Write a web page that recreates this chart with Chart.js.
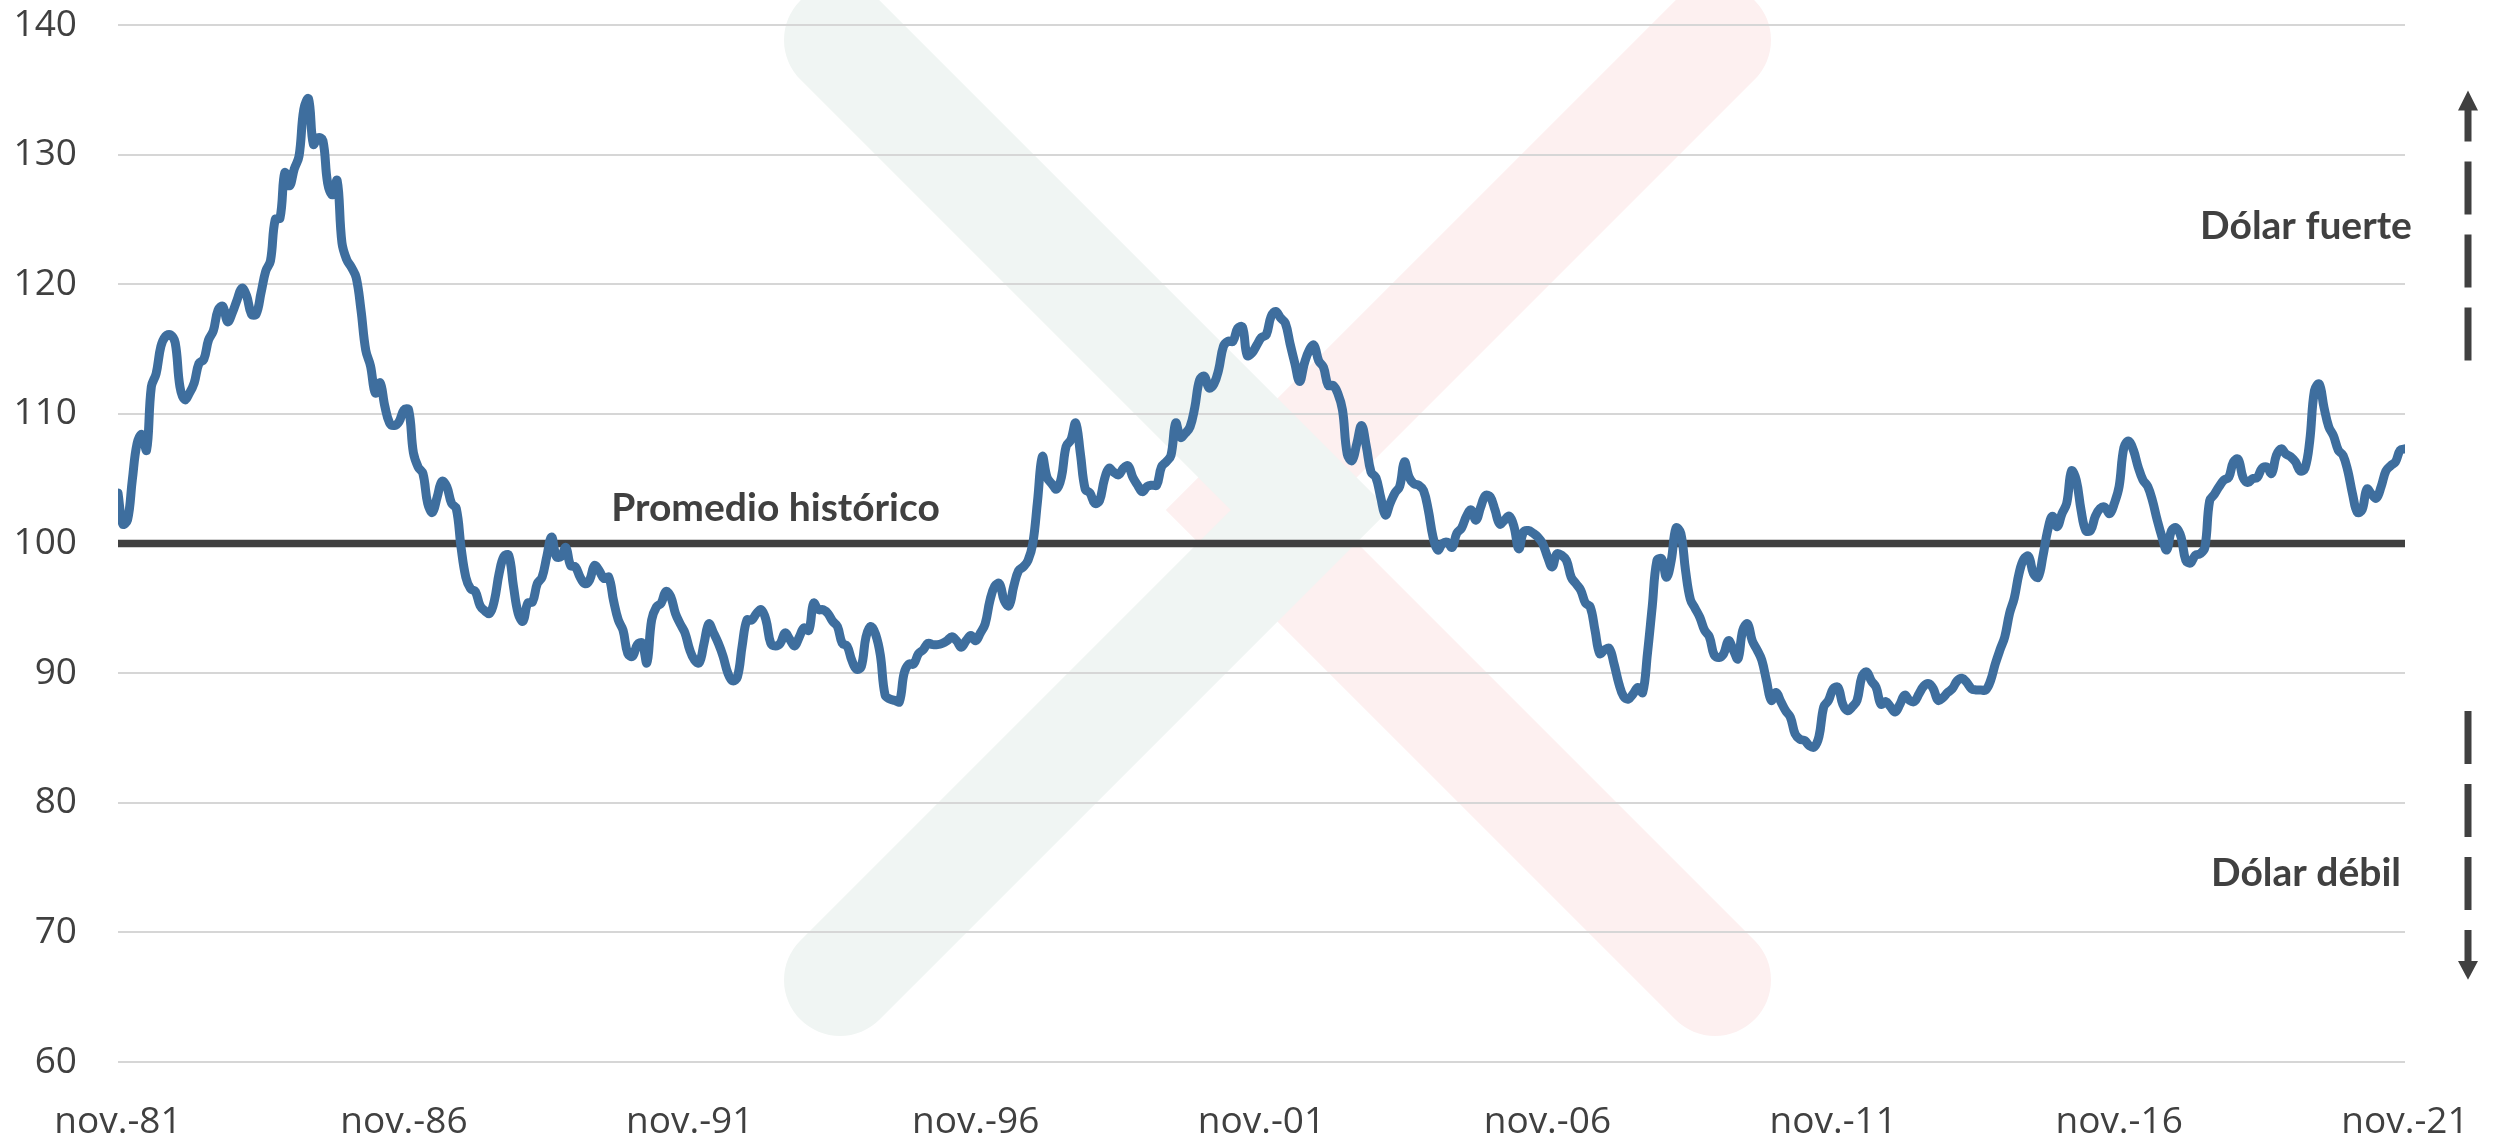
<!DOCTYPE html>
<html>
<head>
<meta charset="utf-8">
<script src="https://cdn.jsdelivr.net/npm/chart.js@4.4.1/dist/chart.umd.min.js"></script>
<style>
	html, body { margin: 0; padding: 0; background: #ffffff; }
	#wrap { width: 2496px; height: 1139px; }
</style>
</head>
<body>
<div id="wrap"><canvas id="dollarChart" width="2496" height="1139"></canvas></div>
<script>
// --- Data (monthly, nov-81 .. nov-21) ---
const xTickLabels = ["nov.-81", "nov.-86", "nov.-91", "nov.-96", "nov.-01", "nov.-06", "nov.-11", "nov.-16", "nov.-21"];
const monthsPerTick = 60;

const dollarIndex = [
	103.9, 101.5, 101.8, 104.9, 107.7, 108.4, 107.2, 112.1, 113.1, 115.2, // 0
	116.0, 116.1, 115.5, 112.1, 111.1, 111.6, 112.4, 113.9, 114.2, 115.7,
	116.4, 118.0, 118.3, 117.1, 117.8, 118.8, 119.7, 119.1, 117.7, 117.7,
	119.3, 121.0, 121.8, 125.0, 125.1, 128.6, 127.6, 128.9, 129.9, 133.5,
	134.3, 130.8, 131.3, 131.1, 127.8, 126.9, 128.0, 123.2, 121.9, 121.3,
	120.5, 118.0, 114.9, 113.7, 111.6, 112.4, 110.6, 109.3, 109.1, 109.4,
	110.3, 110.3, 107.0, 105.9, 105.4, 103.1, 102.4, 103.6, 104.8, 104.4, // 60
	103.1, 102.7, 99.7, 97.4, 96.5, 96.3, 95.2, 94.8, 94.6, 95.6,
	97.7, 99.0, 99.1, 96.7, 94.6, 94.0, 95.4, 95.5, 96.9, 97.4,
	99.0, 100.5, 99.0, 99.0, 99.7, 98.3, 98.2, 97.4, 96.9, 97.2,
	98.3, 97.9, 97.3, 97.4, 95.6, 94.1, 93.3, 91.5, 91.3, 92.2,
	92.3, 90.8, 94.1, 95.1, 95.4, 96.3, 95.9, 94.6, 93.8, 93.1,
	91.8, 91.0, 90.8, 92.3, 93.8, 93.1, 92.3, 91.3, 90.0, 89.4, // 120
	89.7, 92.1, 94.1, 94.1, 94.6, 94.9, 94.1, 92.3, 92.1, 92.3,
	93.1, 92.6, 92.1, 92.8, 93.5, 93.3, 95.4, 94.9, 94.9, 94.6,
	94.0, 93.6, 92.3, 92.1, 91.0, 90.3, 90.5, 92.8, 93.6, 93.0,
	91.4, 88.3, 88.0, 87.9, 87.8, 90.0, 90.7, 90.7, 91.5, 91.8,
	92.3, 92.2, 92.2, 92.3, 92.5, 92.8, 92.5, 92.0, 92.5, 92.9,
	92.5, 93.1, 93.8, 95.6, 96.7, 96.9, 95.6, 95.2, 96.7, 97.9, // 180
	98.2, 98.7, 100.0, 103.3, 106.7, 105.1, 104.6, 104.2, 105.1, 107.5,
	108.0, 109.3, 106.9, 104.2, 103.9, 103.1, 103.3, 104.9, 105.8, 105.5,
	105.3, 105.8, 106.0, 105.1, 104.5, 104.0, 104.4, 104.5, 104.5, 105.9,
	106.3, 106.8, 109.3, 108.2, 108.5, 109.0, 110.5, 112.6, 112.9, 112.0,
	112.3, 113.4, 115.2, 115.6, 115.6, 116.6, 116.7, 114.5, 114.7, 115.3,
	115.9, 116.1, 117.5, 117.9, 117.4, 117.0, 115.4, 113.9, 112.5, 113.9, // 240
	114.9, 115.3, 114.1, 113.6, 112.2, 112.2, 111.6, 110.3, 106.9, 106.4,
	107.7, 109.1, 107.5, 105.5, 105.1, 103.6, 102.2, 103.1, 103.9, 104.4,
	106.3, 105.1, 104.6, 104.5, 104.1, 102.6, 100.5, 99.5, 100.0, 100.1,
	99.7, 100.8, 101.2, 102.1, 102.6, 101.8, 102.8, 103.7, 103.6, 102.6,
	101.5, 101.8, 102.1, 101.3, 99.6, 100.9, 101.0, 100.8, 100.5, 100.0,
	99.0, 98.2, 99.2, 99.1, 98.7, 97.4, 96.9, 96.4, 95.4, 95.1, // 300
	93.3, 91.5, 91.8, 91.9, 90.7, 89.2, 88.2, 88.0, 88.4, 88.9,
	88.5, 91.5, 95.1, 98.7, 98.8, 97.4, 98.7, 101.2, 100.8, 97.9,
	95.7, 95.0, 94.3, 93.3, 92.8, 91.4, 91.2, 91.5, 92.5, 91.8,
	91.1, 93.3, 93.8, 92.5, 91.8, 91.0, 89.4, 87.9, 88.5, 87.8,
	87.1, 86.6, 85.3, 84.9, 84.8, 84.4, 84.3, 85.1, 87.4, 87.9,
	88.8, 88.9, 87.6, 87.1, 87.4, 87.9, 89.7, 90.1, 89.4, 88.9, // 360
	87.6, 87.8, 87.4, 87.0, 87.6, 88.3, 87.9, 87.8, 88.4, 89.0,
	89.2, 88.8, 87.9, 88.1, 88.5, 88.8, 89.4, 89.6, 89.3, 88.8,
	88.7, 88.7, 88.7, 89.4, 90.7, 91.8, 92.8, 94.6, 95.8, 97.7,
	98.8, 99.0, 97.7, 97.4, 99.0, 101.0, 102.1, 101.3, 102.3, 103.1,
	105.6, 104.9, 102.6, 101.0, 101.0, 102.1, 102.7, 102.8, 102.3, 103.1,
	104.4, 107.4, 107.9, 107.2, 105.9, 104.9, 104.4, 103.3, 101.8, 100.5, // 420
	99.5, 101.0, 101.2, 100.5, 98.7, 98.5, 99.1, 99.2, 99.7, 103.3,
	103.8, 104.4, 104.9, 105.1, 106.3, 106.5, 105.1, 104.7, 105.0, 105.1,
	105.8, 105.9, 105.4, 106.8, 107.3, 106.9, 106.7, 106.3, 105.6, 105.8,
	107.9, 111.8, 112.3, 110.5, 109.0, 108.3, 107.2, 106.8, 105.6, 103.8,
	102.4, 102.6, 104.2, 103.8, 103.5, 104.4, 105.6, 106.0, 106.3, 107.2,
	107.3 // 480
];

const historicalAverage = 100;
const yMin = 60;
const yMax = 140;
const yStep = 10;

const averageLabel = "Promedio histórico";
const strongLabel = "Dólar fuerte";
const weakLabel = "Dólar débil";

// --- Colours ---
const LINE_BLUE = "#3e6e9e";
const DARK_GREY = "#404040";

const lastMonth = dollarIndex.length - 1;

// faint watermark behind the plot (decoration)
const watermarkPlugin = {
	id: "watermark",
	beforeDraw(chart) {
		const ctx = chart.ctx;
		ctx.save();
		ctx.lineWidth = 112;
		ctx.lineCap = "round";
		ctx.lineJoin = "miter";
		// pink "<"
		ctx.strokeStyle = "#fdf0f0";
		ctx.beginPath();
		ctx.moveTo(1715, 40);
		ctx.lineTo(1245, 510);
		ctx.lineTo(1715, 980);
		ctx.stroke();
		// green ">"
		ctx.strokeStyle = "#f0f5f3";
		ctx.beginPath();
		ctx.moveTo(840, 40);
		ctx.lineTo(1310, 510);
		ctx.lineTo(840, 980);
		ctx.stroke();
		ctx.restore();
	},
};

function drawArrow(ctx, x, tipY, baseY, shaftEndY) {
	// head
	const dir = Math.sign(baseY - tipY);
	ctx.beginPath();
	ctx.moveTo(x, tipY);
	ctx.lineTo(x - 10, baseY);
	ctx.lineTo(x + 10, baseY);
	ctx.closePath();
	ctx.fill();
	// dashed shaft
	ctx.save();
	ctx.lineWidth = 7;
	ctx.setLineDash([53, 20]);
	ctx.lineDashOffset = 21;
	ctx.beginPath();
	ctx.moveTo(x, baseY - dir);
	ctx.lineTo(x, shaftEndY);
	ctx.stroke();
	ctx.restore();
}

// texts and arrows on top of the chart
const annotationPlugin = {
	id: "annotations",
	afterDraw(chart) {
		const ctx = chart.ctx;
		const xs = chart.scales.x;
		const ys = chart.scales.y;
		const area = chart.chartArea;
		ctx.save();
		ctx.fillStyle = DARK_GREY;
		ctx.strokeStyle = DARK_GREY;
		ctx.font = "bold 39px Lato";
		ctx.textBaseline = "alphabetic";

		ctx.textAlign = "left";
		ctx.fillText(averageLabel, xs.getPixelForValue(103.5), ys.getPixelForValue(101.7));

		ctx.textAlign = "center";
		ctx.fillText(strongLabel, area.right - 99, ys.getPixelForValue(123.5));
		ctx.fillText(weakLabel, area.right - 99, ys.getPixelForValue(73.6));

		const ax = area.right + 63;
		drawArrow(ctx, ax, ys.getPixelForValue(134.95), ys.getPixelForValue(133.4), ys.getPixelForValue(114.0));
		drawArrow(ctx, ax, ys.getPixelForValue(66.35), ys.getPixelForValue(67.8), ys.getPixelForValue(87.3));
		ctx.restore();
	},
};

const ctx = document.getElementById("dollarChart").getContext("2d");

new Chart(ctx, {
	type: "line",
	data: {
		datasets: [
			{
				label: "Índice dólar",
				data: dollarIndex.map((v, i) => ({ x: i, y: v })),
				borderColor: LINE_BLUE,
				borderWidth: 9,
				pointRadius: 0,
				tension: 0.4,
				borderJoinStyle: "round",
				borderCapStyle: "round",
				fill: false,
			},
			{
				label: averageLabel,
				data: [
					{ x: 0, y: historicalAverage },
					{ x: lastMonth, y: historicalAverage },
				],
				borderColor: DARK_GREY,
				borderWidth: 7.5,
				pointRadius: 0,
				borderCapStyle: "round",
				fill: false,
			},
		],
	},
	options: {
		responsive: false,
		animation: false,
		events: [],
		layout: {
			padding: { top: 25, right: 91, bottom: 0, left: 0 },
		},
		scales: {
			x: {
				type: "linear",
				min: 0,
				max: lastMonth,
				grid: { display: false, drawTicks: false },
				border: { display: false },
				ticks: {
					stepSize: monthsPerTick,
					autoSkip: false,
					maxRotation: 0,
					padding: 38,
					color: DARK_GREY,
					font: { family: "Open Sans", size: 37 },
					callback: (value) => xTickLabels[value / monthsPerTick],
				},
				afterFit: (scale) => {
					scale.height = 77;
					scale.paddingLeft = 0;
					scale.paddingRight = 0;
				},
			},
			y: {
				min: yMin,
				max: yMax,
				grid: { color: "#d6d6d6", lineWidth: 2, drawTicks: false },
				border: { display: false },
				ticks: {
					stepSize: yStep,
					padding: 41,
					color: DARK_GREY,
					font: { family: "Open Sans", size: 37 },
				},
				afterFit: (scale) => {
					// keep the plot box where the reference has it
					scale.width = 118;
					scale.paddingTop = 20;
					scale.paddingBottom = 20;
				},
			},
		},
		plugins: {
			legend: { display: false },
			tooltip: { enabled: false },
		},
	},
	plugins: [watermarkPlugin, annotationPlugin],
});
</script>
</body>
</html>
